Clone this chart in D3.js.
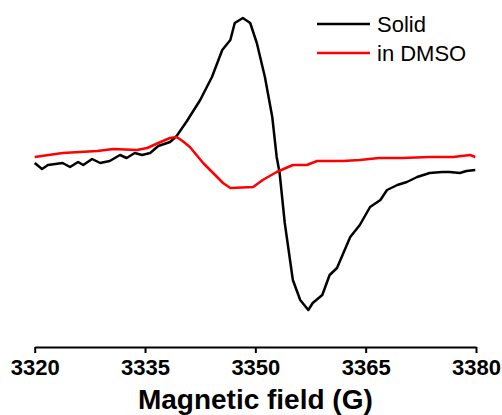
<!DOCTYPE html>
<html>
<head>
<meta charset="utf-8">
<script src="https://cdn.jsdelivr.net/npm/d3@7"></script>
<style>
  body { margin: 0; background: #fff; }
  text { font-family: "Liberation Sans", Arial, sans-serif; }
</style>
</head>
<body>
<script>
// EPR spectra, field in G, intensity in arbitrary units
var solidField = [3320.0, 3321.0, 3321.8, 3323.8, 3324.8, 3325.9, 3326.6, 3327.8, 3328.9, 3330.2,
  3331.6, 3332.5, 3333.6, 3334.6, 3335.7, 3336.8, 3338.4, 3339.3, 3340.7, 3342.5,
  3344.1, 3345.5, 3346.6, 3347.2, 3348.3, 3349.3, 3350.2, 3351.3, 3352.3, 3352.9,
  3353.3, 3354.0, 3355.1, 3356.1, 3357.2, 3357.8, 3359.1, 3360.1, 3361.1, 3362.9,
  3364.2, 3365.6, 3367.0, 3367.9, 3369.3, 3370.6, 3372.0, 3373.7, 3375.4, 3376.4,
  3377.8, 3378.7, 3379.9];
var solidSignal = [-3, -9, -5, -3, -7, -2, -5, 1, -3, -1,
  5, 2, 7, 5, 7, 14, 18, 24, 39, 60,
  83, 110, 120, 137, 142, 137, 117, 83, 43, 3,
  -13, -63, -120, -140, -150, -143, -135, -115, -108, -77,
  -65, -47, -40, -30, -25, -22, -17, -13, -12, -12,
  -13, -11, -10];

var dmsoField = [3320.0, 3323.8, 3328.5, 3330.7, 3333.9, 3335.3, 3336.8, 3338.4, 3339.3, 3340.1,
  3341.1, 3342.9, 3344.8, 3345.6, 3346.6, 3349.7, 3351.0, 3352.9, 3355.1, 3357.0,
  3358.4, 3361.9, 3364.2, 3366.8, 3369.9, 3373.7, 3376.9, 3379.2, 3379.9];
var dmsoSignal = [3, 7, 9, 11, 10, 12, 17, 22, 23, 19,
  13, -3, -17, -23, -28, -27, -20, -12, -5, -5,
  -1, -1, 0, 2, 2, 3, 3, 5, 3];

var seriesNames = ["Solid", "in DMSO"];
var seriesColors = ["#000000", "#ff0000"];
var xTicks = [3320, 3335, 3350, 3365, 3380];

var margin = {top: 0, right: 26, bottom: 68, left: 34.7},
    width = 502 - margin.left - margin.right,
    height = 415 - margin.top - margin.bottom;

var svg = d3.select("body").append("svg")
    .attr("width", 502)
    .attr("height", 415)
  .append("g")
    .attr("transform", "translate(" + margin.left + "," + margin.top + ")");

var x = d3.scaleLinear().domain([3320, 3380]).range([0, 441.3]);
var y = d3.scaleLinear().domain([-190, 160]).range([350, 0]);

var line = d3.line()
    .x(function(d) { return x(d[0]); })
    .y(function(d) { return y(d[1]); });

var solid = d3.zip(solidField, solidSignal);
var dmso = d3.zip(dmsoField, dmsoSignal);

[solid, dmso].forEach(function(data, i) {
  svg.append("path")
      .datum(data)
      .attr("fill", "none")
      .attr("stroke", seriesColors[i])
      .attr("stroke-width", 2.5)
      .attr("stroke-linejoin", "round")
      .attr("d", line);
});

// x axis
var axis = svg.append("g")
    .attr("transform", "translate(0,347)")
    .call(d3.axisBottom(x).tickValues(xTicks).tickSize(6).tickSizeOuter(0).tickFormat(d3.format("d")));
axis.select(".domain").attr("stroke-width", 2);
axis.selectAll(".tick line").attr("stroke-width", 2);
axis.selectAll(".tick text")
    .attr("y", 28)
    .attr("dy", 0)
    .style("font-family", "'Liberation Sans', Arial, sans-serif")
    .style("font-size", "22px")
    .style("font-weight", "bold")
    .attr("fill", "#000");

svg.append("text")
    .attr("x", x(3350))
    .attr("y", 409)
    .attr("text-anchor", "middle")
    .style("font-size", "28px")
    .style("font-weight", "bold")
    .text("Magnetic field (G)");

// legend
var legend = svg.selectAll(".legend")
    .data(seriesNames)
  .enter().append("g")
    .attr("class", "legend")
    .attr("transform", function(d, i) { return "translate(" + (317 - margin.left) + "," + (24 + i * 29) + ")"; });

legend.append("line")
    .attr("x1", 0)
    .attr("x2", 53)
    .attr("stroke", function(d, i) { return seriesColors[i]; })
    .attr("stroke-width", 2.5);

legend.append("text")
    .attr("x", 60)
    .attr("y", 8)
    .style("font-size", "22px")
    .text(function(d) { return d; });
</script>
</body>
</html>
